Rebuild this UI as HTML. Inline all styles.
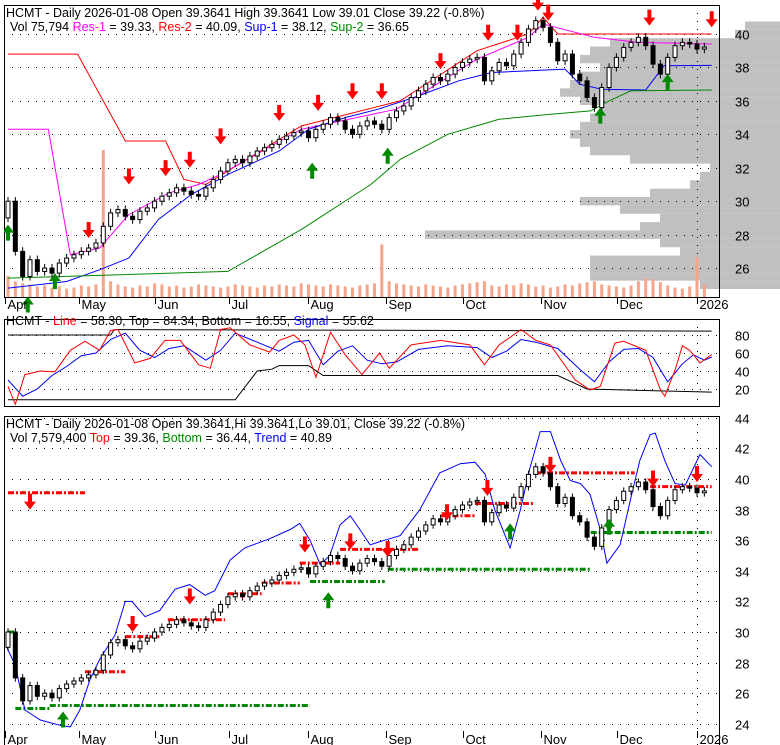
<!DOCTYPE html>
<html><head><meta charset="utf-8"><style>
body{margin:0;background:#fff;}
svg{display:block;font-family:"Liberation Sans",sans-serif;}
</style></head><body>
<svg id="c" width="780" height="745" viewBox="0 0 780 745"></svg>
<script>
const closes=[30,27,25.5,26.5,25.8,26,25.7,26.3,26.6,26.8,27,27.2,27.5,28.5,29.3,29.5,29.1,28.9,29.4,29.6,30,30.3,30.5,30.8,30.6,30.4,30.3,30.8,31.3,31.8,32.3,32.5,32.3,32.7,33,33.2,33.4,33.7,33.9,34.1,34.2,33.8,34.3,34.6,35,34.8,34.3,34,34.5,34.8,34.6,34.3,35,35.4,35.7,36.2,36.6,37,37.4,37.2,37.6,38,38.3,38.5,38.6,37.2,37.8,38.3,38.1,38.8,39.5,40.3,40.8,40.4,39.5,38.4,38.8,37.6,37.2,36.2,35.6,36.8,38,38.6,39.2,39.5,39.8,39.3,38.2,37.6,38.6,39.3,39.5,39.4,39.1,39.22];
const volumes=[200,150,130,120,100,110,90,100,80,90,110,100,120,1400,150,120,100,90,110,100,130,120,100,110,90,100,120,110,100,90,100,120,110,100,90,110,100,120,110,100,130,120,110,100,120,110,100,90,110,120,130,500,150,130,120,110,100,120,110,100,90,110,120,130,140,150,110,100,120,110,130,120,100,110,90,100,120,110,130,140,150,120,110,100,90,110,150,180,170,140,110,90,80,100,380,120];
const profileLevels=[25,25.5,26,26.5,27,27.5,28,28.5,29,29.5,30,30.5,31,31.5,32,32.5,33,33.5,34,34.5,35,35.5,36,36.5,37,37.5,38,38.5,39,39.5,40,40.5];
const profileVolumes=[80,190,190,190,100,120,355,140,120,160,200,130,90,80,70,150,190,200,210,200,190,180,200,220,210,200,180,200,190,170,45,35];
const res1=[[0,34.3],[5.5,34.3],[8.5,26.8],[12.5,27.2],[16.5,29.2],[22,30.5],[26,31],[29,31.6],[40,34.3],[53,35.5],[64,38.5],[71,39.8],[73,40.6],[80,39.8],[86,39.5],[96,39.4]];
const res2=[[0,38.8],[9.5,38.8],[16,33.6],[21.5,33.6],[24,31.3],[27,31],[40,34.5],[53.5,36],[64,39],[71,40],[73,41],[75,40],[96,40]];
const sup1=[[0,24.8],[8,25.2],[12.5,25.9],[16.5,26.6],[20.5,28.9],[25,30.4],[30,31.6],[37,33],[41,34.3],[46,35],[50.5,35.5],[56,36.3],[61.5,37.2],[66,37.7],[76,37.9],[78,37],[81,36.7],[87,36.65],[89.5,38.1],[96,38.12]];
const sup2=[[0,25.4],[30,25.8],[40,28.3],[49.5,31],[53.5,32.5],[60,34],[67,34.9],[74,35.2],[79.5,35.4],[82,36],[85,36.6],[96,36.65]];
const sellArrowsTop=[[11,27.8],[16.5,31],[21.5,31.5],[24.8,32],[29,33.4],[37,34.8],[42.3,35.4],[47,36.1],[51,36.1],[59,37.9],[65.5,39.6],[69.5,39.6],[72.3,41.4],[73.7,40.8],[87.5,40.5],[96,40.4]];
const buyArrowsTop=[[0,28.6],[2.7,24.3],[6.4,25.7],[41.5,32.3],[51.8,33.2],[80.8,35.6],[90,37.6]];
const stochLine=[[0,23],[1,3],[2.3,36],[4.4,40],[6.4,39],[8.5,63],[10.5,73],[12.5,63],[14,85],[15,86],[17.3,49],[19.4,54],[21.4,74],[23.5,74],[26,47],[27.6,43],[29,86],[30.3,88],[33,69],[35.7,61],[37,74],[39,80],[40.5,69],[42,33],[44,83],[46,58],[48.3,36],[50.7,60],[52,43],[55,69],[59,74],[63,69],[65,47],[67,69],[70,86],[72,74],[74,69],[77.4,30],[79.4,19],[80.8,23],[82.8,71],[84,73],[87,63],[89,19],[89.6,12],[91,41],[92,68],[93,63],[94.4,49],[96,58.3]];
const stochSignal=[[0,30],[2,12],[4,20],[6,35],[8,45],[10,57],[12,60],[14,75],[16,82],[18,63],[20,55],[22,65],[24,68],[27,52],[29,63],[31,82],[34,72],[37,62],[39,72],[41,74],[43,47],[45,62],[47,68],[49,52],[51,48],[53,50],[56,64],[60,68],[64,66],[66,55],[68,62],[70,75],[72,72],[75,65],[78,42],[80,28],[82,50],[84,64],[86,65],[88,55],[90,28],[92,48],[93.5,58],[95,52],[96,55.6]];
const stochTop=[[0,80],[14,80],[14.5,86],[96,84.3]];
const stochBottom=[[0,8],[31,8],[34,40],[36,42],[37,46],[41,46],[43,35],[75,35],[79,20],[96,16.5]];
const trendLine=[[-0.3,29.15],[1,27.8],[2.3,24.9],[4.4,24.25],[7.1,23.9],[8.5,23.8],[9.8,24.9],[11.2,26.9],[12.5,28.2],[14.6,29.8],[16,32],[16.9,32],[18.7,31],[20.7,31.4],[22.8,32.8],[24.8,33.1],[26.9,32.4],[28.2,32.7],[30.3,34.7],[32.3,35.5],[35.7,36.1],[38.5,36.7],[39.8,37.1],[41.2,36],[42.6,34.4],[43.9,35],[45.3,37],[46.7,37.6],[48,36.7],[49.4,35.7],[51.4,36],[53.5,36.3],[56.2,38],[58.9,40.4],[61.7,41],[63.7,41.1],[65.1,40.3],[66.4,38],[68.5,35.5],[69.9,38],[71.2,40.7],[72.6,43.1],[74,43.1],[75.4,41.2],[76.7,39.9],[78.1,39.7],[79.4,39],[80.8,36.7],[81.7,34.5],[83.5,35.7],[84.9,38.6],[86.2,41.2],[87.6,42.9],[88.3,43],[89.6,41.2],[91,39.7],[92.4,39.6],[94.4,41.6],[95.8,40.9],[96,40.8]];
const topLevels=[[0,10.5,39.1],[10.5,16,27.4],[16,20.8,29.7],[21.8,29.6,30.8],[30,34.6,32.5],[34.6,39.8,33.2],[39.8,45.3,34.5],[45.3,56.2,35.4],[59,63.7,37.6],[63.7,71.9,38.4],[71.9,85.5,40.4],[87.6,96,39.5]];
const bottomLevels=[[0,1,30],[1,5.7,25],[5.7,41.2,25.2],[41.2,51.4,33.3],[51.8,79.5,34.1],[79.5,96,36.5]];
const sellArrowsBot=[[3,38],[17,30],[24.8,31.8],[40.5,35.2],[46.7,35.4],[51.8,34.9],[59.9,37.3],[65.4,38.9],[74,40.4],[88,39.5],[94,39.8]];
const buyArrowsBot=[[7.5,24.8],[43.7,32.6],[68.5,37.1],[82,37.4]];
const monthLabels=["Apr","May","Jun","Jul","Aug","Sep","Oct","Nov","Dec","2026"];
const monthIdx=[-0.4,9.7,20,30.2,40.9,51.6,62.1,72.7,83.1,94];

const S=document.getElementById('c');const NS='http://www.w3.org/2000/svg';
function el(t,a,p){const e=document.createElementNS(NS,t);for(const k in a)e.setAttribute(k,a[k]);(p||S).appendChild(e);return e;}
const X=i=>8+i*7.33;
const L=4,R=719;
const P1={t:5,b:297,y:p=>34+(40-p)*16.72};
const P2={t:319,b:406,y:v=>335+(80-v)*0.9};
const P3={t:416,b:748,y:p=>479+(40-p)*15.3};
function frame(P,name){const r=el('rect',{x:L+.5,y:P.t+.5,width:R-L,height:P.b-P.t,fill:'none',stroke:'#000'});}
function grid(P,vals,name){const g=el('g',{});
 vals.forEach(v=>{const y=Math.round(P.y(v))+.5;el('line',{x1:L,x2:R,y1:y,y2:y,stroke:'#000','stroke-dasharray':'1 7'},g);
 const t=el('text',{x:735,y:y+5,'font-size':13,fill:'#000'},g);t.textContent=v;});
 el('line',{x1:697.5,x2:697.5,y1:P.t,y2:P.b,stroke:'#000','stroke-dasharray':'1 7'},g);}
function poly(P,pts,col,name,w){const d=pts.map((p,k)=>(k?'L':'M')+X(p[0]).toFixed(1)+' '+P.y(p[1]).toFixed(1)).join(' ');const e=el('path',{d:d,fill:'none',stroke:col,'stroke-width':w||1});}
function candles(P,name){const g=el('g',{});
 closes.forEach((c,i)=>{const o=i?closes[i-1]:29;const x=X(i);const hi=Math.max(o,c)+0.25,lo=Math.min(o,c)-0.25;
 el('line',{x1:x,x2:x,y1:P.y(hi),y2:P.y(lo),stroke:'#000'},g);
 const y1=P.y(Math.max(o,c)),y2=P.y(Math.min(o,c));
 el('rect',{x:x-2,y:y1,width:4,height:Math.max(1,y2-y1),fill:c>=o?'#fff':'#000',stroke:'#000','stroke-width':1},g);});}
function arrow(P,g,i,p,down,col){const x=X(i),y=P.y(p);const s=down?-1:1;
 el('path',{d:`M${x} ${y} L${x-6} ${y+s*8} L${x-2} ${y+s*8} L${x-2} ${y+s*16} L${x+2} ${y+s*16} L${x+2} ${y+s*8} L${x+6} ${y+s*8}Z`,fill:col},g);}
function txt(x,y,parts,name){const t=el('text',{x:x,y:y,'font-size':12.5});
 parts.forEach(([s,c])=>{const sp=el('tspan',{fill:c},t);sp.textContent=s;});}

// ---- Panel 1 ----
const prof=el('g',{});
profileLevels.forEach((p,k)=>{const y=P1.y(p+0.25);el('rect',{x:780-profileVolumes[k],y:y,width:profileVolumes[k],height:8.4,fill:'#c0c0c0'},prof);});
frame(P1,'price-panel-frame');grid(P1,[26,28,30,32,34,36,38,40],'price-grid');
const vg=el('g',{});
volumes.forEach((v,i)=>{el('rect',{x:X(i)-1.5,y:297-v*0.105,width:3,height:v*0.105,fill:'#f4a58a'},vg);});
poly(P1,res2,'#f00','res-2-line');poly(P1,res1,'#f0f','res-1-line');poly(P1,sup1,'#00f','sup-1-line');poly(P1,sup2,'#080','sup-2-line');
candles(P1,'price-candles');
const ag=el('g',{});
sellArrowsTop.forEach(a=>arrow(P1,ag,a[0],a[1],true,'#f00'));buyArrowsTop.forEach(a=>arrow(P1,ag,a[0],a[1],false,'#080'));
el('rect',{x:0,y:0,width:L,height:745,fill:'#fff'});
txt(6,17,[['HCMT - Daily 2026-01-08 Open 39.3641  High 39.3641  Low 39.01  Close 39.22 (-0.8%)','#000']],'price-title');
txt(10,31,[['Vol 75,794 ','#000'],['Res-1','#f0f'],[' = 39.33, ','#000'],['Res-2','#f00'],[' = 40.09, ','#000'],['Sup-1','#00f'],[' = 38.12, ','#000'],['Sup-2','#080'],[' = 36.65','#000']],'price-legend');
function months(yTick,yTxt,name){const g=el('g',{});
 monthLabels.forEach((m,k)=>{const x=Math.round(X(monthIdx[k]))+.5;el('line',{x1:x,x2:x,y1:yTick,y2:yTick+7,stroke:'#000'},g);const t=el('text',{x:x+2,y:yTxt,'font-size':13},g);t.textContent=m;});}
months(297,309,'x-axis-top');

// ---- Panel 2 ----
frame(P2,'oscillator-frame');grid(P2,[20,40,60,80],'oscillator-grid');
poly(P2,stochTop,'#000','osc-top-line');poly(P2,stochBottom,'#000','osc-bottom-line');
poly(P2,stochSignal,'#00f','osc-signal-line');poly(P2,stochLine,'#f00','osc-line');
txt(6,325,[['HCMT - ','#000'],['Line','#f00'],[' = 58.30, Top = 84.34, Bottom = 16.55, ','#000'],['Signal','#00f'],[' = 55.62','#000']],'oscillator-legend');

// ---- Panel 3 ----
frame(P3,'trend-panel-frame');grid(P3,[24,26,28,30,32,34,36,38,40,42,44],'trend-grid');
const lv=el('g',{});
topLevels.forEach(s=>el('line',{x1:X(s[0]),x2:X(s[1]),y1:P3.y(s[2]),y2:P3.y(s[2]),stroke:'#f00','stroke-width':3,'stroke-dasharray':'6 2 2 2'},lv));
bottomLevels.forEach(s=>el('line',{x1:X(s[0]),x2:X(s[1]),y1:P3.y(s[2]),y2:P3.y(s[2]),stroke:'#080','stroke-width':3,'stroke-dasharray':'6 2 2 2'},lv));
poly(P3,trendLine,'#00f','trend-line');
candles(P3,'trend-candles');
const ag3=el('g',{});
sellArrowsBot.forEach(a=>arrow(P3,ag3,a[0],a[1],true,'#f00'));buyArrowsBot.forEach(a=>arrow(P3,ag3,a[0],a[1],false,'#080'));
el('rect',{x:0,y:410,width:L,height:335,fill:'#fff'});
el('line',{x1:L+.5,x2:L+.5,y1:416,y2:745,stroke:'#000'});
txt(6,428,[['HCMT - Daily 2026-01-08 Open 39.3641,Hi 39.3641,Lo 39.01, Close 39.22 (-0.8%)','#000']],'trend-title');
txt(10,442,[['Vol 7,579,400 ','#000'],['Top','#f00'],[' = 39.36, ','#000'],['Bottom','#080'],[' = 36.44, ','#000'],['Trend','#00f'],[' = 40.89','#000']],'trend-legend');
months(731,744,'x-axis-bottom');
</script>
</body></html>
